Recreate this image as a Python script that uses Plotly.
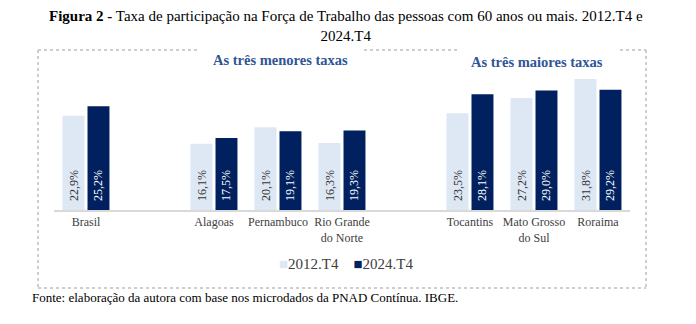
import plotly.graph_objects as go

# ---- data ----
categories = ["Brasil", "Alagoas", "Pernambuco", "Rio Grande<br>do Norte",
              "Tocantins", "Mato Grosso<br>do Sul", "Roraima"]
positions = [0, 2, 3, 4, 6, 7, 8]
series_names = ["2012.T4", "2024.T4"]
values_2012 = [22.9, 16.1, 20.1, 16.3, 23.5, 27.2, 31.8]
values_2024 = [25.2, 17.5, 19.1, 19.3, 28.1, 29.0, 29.2]

title_bold = "Figura 2 -"
title_rest = " Taxa de participação na Força de Trabalho das pessoas com 60 anos ou mais. 2012.T4 e<br>2024.T4"
group_labels = ["As três menores taxas", "As três maiores taxas"]
footer = "Fonte: elaboração da autora com base nos microdados da PNAD Contínua. IBGE."

LIGHT = "#dde8f4"
DARK = "#002060"
SERIF = "Liberation Serif"

W, H = 696, 324
L, R, T, B = 54, 66, 70, 114
PW, PH = W - L - R, H - T - B


def px(x):
    return (x - L) / PW


def py(y):
    return (H - B - y) / PH


def fmt(v):
    return "  " + f"{v:.1f}".replace(".", ",") + "%"


fig = go.Figure()
colors = [LIGHT, DARK]
txtcolors = ["#333333", "white"]
for name, vals, c, tc in zip(series_names, [values_2012, values_2024], colors, txtcolors):
    fig.add_trace(go.Bar(
        x=positions, y=vals, name=name,
        marker=dict(color=c, line=dict(width=0)),
        text=[fmt(v) for v in vals], textposition="inside",
        insidetextanchor="start", textangle=-90,
        textfont=dict(family=SERIF, size=12, color=tc),
        hoverinfo="skip", showlegend=False,
    ))

fig.update_layout(
    width=W, height=H,
    margin=dict(l=L, r=R, t=T, b=B),
    paper_bgcolor="white", plot_bgcolor="white",
    barmode="group", bargap=0.22, bargroupgap=0.12,
    font=dict(family=SERIF, color="#404040"),
    showlegend=False,
    xaxis=dict(range=[-0.5, 8.5], tickmode="array", tickvals=positions,
               ticktext=categories, showgrid=False, zeroline=False,
               showline=True, linecolor="#d9d9d9", linewidth=2,
               ticks="", tickfont=dict(family=SERIF, size=12, color="#404040"),
               fixedrange=True),
    yaxis=dict(range=[0, 34], visible=False, showgrid=False, fixedrange=True),
)

# title
fig.add_annotation(
    text=f"<b>{title_bold}</b>{title_rest}", xref="paper", yref="paper",
    x=px(346), y=py(26), xanchor="center", yanchor="middle",
    showarrow=False, align="center",
    font=dict(family=SERIF, size=15, color="black"),
)

# dotted frame (top border broken by group labels)
dot = dict(color="#bfbfbf", width=1.5, dash="dot")
top_segments = [(38, 198), (364, 458), (620, 646)]
for a, b in top_segments:
    fig.add_shape(type="line", xref="paper", yref="paper",
                  x0=px(a), x1=px(b), y0=py(50), y1=py(50), line=dot)
fig.add_shape(type="line", xref="paper", yref="paper",
              x0=px(38), x1=px(38), y0=py(50), y1=py(288), line=dot)
fig.add_shape(type="line", xref="paper", yref="paper",
              x0=px(646), x1=px(646), y0=py(50), y1=py(288), line=dot)
fig.add_shape(type="line", xref="paper", yref="paper",
              x0=px(38), x1=px(646), y0=py(288), y1=py(288), line=dot)

# group labels
for lbl, cx, cy in [(group_labels[0], 280, 60), (group_labels[1], 537, 62)]:
    fig.add_annotation(
        text=f"<b>{lbl}</b>", xref="paper", yref="paper",
        x=px(cx), y=py(cy), xanchor="center", yanchor="middle",
        showarrow=False,
        font=dict(family=SERIF, size=14.5, color="#2f5597"),
    )

# legend (compact, as in the reference)
legend_text = "    ".join(
    f"<span style='color:{c}'>■</span>{n}" for c, n in zip(colors, series_names)
)
fig.add_annotation(
    text=legend_text, xref="paper", yref="paper",
    x=px(346), y=py(264), xanchor="center", yanchor="middle",
    showarrow=False, font=dict(family=SERIF, size=15, color="#404040"),
)

# footer
fig.add_annotation(
    text=footer, xref="paper", yref="paper",
    x=px(30), y=py(297), xanchor="left", yanchor="middle",
    showarrow=False, font=dict(family=SERIF, size=13, color="black"),
)

fig.write_html("out.html")
